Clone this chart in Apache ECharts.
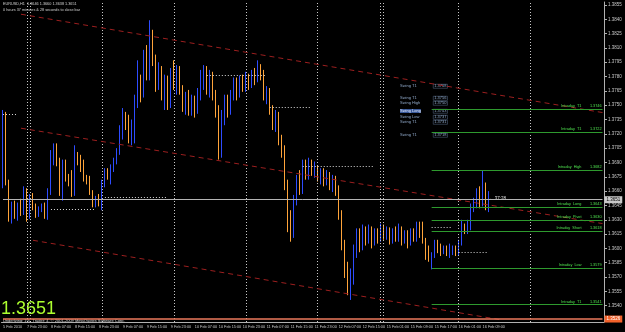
<!DOCTYPE html>
<html><head><meta charset="utf-8">
<script src="https://cdn.jsdelivr.net/npm/echarts@6/dist/echarts.min.js"></script>
<style>html,body{margin:0;padding:0;background:#000}#c{width:625px;height:332px}</style>
</head><body><div id="c"></div>
<script>
// ---- data ----
const tickLabels = ["5 Feb 2010","7 Feb 23:00","8 Feb 07:00","8 Feb 15:00","8 Feb 23:00","9 Feb 07:00","9 Feb 15:00","9 Feb 23:00","10 Feb 07:00","10 Feb 15:00","10 Feb 23:00","11 Feb 07:00","11 Feb 15:00","11 Feb 23:00","12 Feb 07:00","12 Feb 15:00","15 Feb 01:00","15 Feb 09:00","15 Feb 17:00","16 Feb 01:00","16 Feb 09:00"];
const slotCount = 201;
const priceTicks = [1.3855,1.3840,1.3825,1.3810,1.3795,1.3780,1.3765,1.3750,1.3735,1.3720,1.3705,1.3690,1.3675,1.3660,1.3645,1.3630,1.3615,1.3600,1.3585,1.3570,1.3555,1.3540];
// [open, close, low, high]
const candles = [
[1.3666,1.3742,1.3663,1.3745],[1.3740,1.3670,1.3666,1.3743],[1.3670,1.3632,1.3628,1.3672],[1.3632,1.3644,1.3626,1.3649],
[1.3644,1.3636,1.3631,1.3650],[1.3636,1.3643,1.3629,1.3648],[1.3643,1.3638,1.3634,1.3652],[1.3638,1.3661,1.3635,1.3665],
[1.3661,1.3634,1.3628,1.3663],[1.3634,1.3654,1.3631,1.3657],[1.3654,1.3643,1.3640,1.3658],[1.3643,1.3635,1.3632,1.3647],
[1.3635,1.3641,1.3633,1.3644],[1.3641,1.3643,1.3638,1.3647],[1.3643,1.3635,1.3631,1.3648],[1.3635,1.3659,1.3630,1.3663],
[1.3659,1.3693,1.3656,1.3703],[1.3693,1.3700,1.3687,1.3710],[1.3700,1.3691,1.3686,1.3710],[1.3691,1.3659,1.3655,1.3695],
[1.3659,1.3689,1.3650,1.3693],[1.3689,1.3673,1.3670,1.3693],[1.3673,1.3669,1.3665,1.3678],[1.3669,1.3658,1.3654,1.3682],
[1.3658,1.3698,1.3655,1.3708],[1.3698,1.3693,1.3687,1.3701],[1.3693,1.3684,1.3680,1.3698],[1.3684,1.3674,1.3670,1.3693],
[1.3674,1.3672,1.3667,1.3677],[1.3672,1.3659,1.3656,1.3676],[1.3659,1.3647,1.3643,1.3661],[1.3647,1.3653,1.3643,1.3655],
[1.3653,1.3649,1.3644,1.3657],[1.3649,1.3667,1.3640,1.3672],[1.3667,1.3679,1.3664,1.3684],[1.3679,1.3676,1.3672,1.3684],
[1.3676,1.3684,1.3667,1.3688],[1.3684,1.3693,1.3680,1.3695],[1.3693,1.3701,1.3688,1.3705],[1.3701,1.3726,1.3698,1.3729],
[1.3726,1.3742,1.3714,1.3747],[1.3742,1.3731,1.3724,1.3743],[1.3731,1.3714,1.3710,1.3740],[1.3714,1.3729,1.3708,1.3735],
[1.3729,1.3755,1.3710,1.3761],[1.3755,1.3776,1.3747,1.3797],[1.3776,1.3761,1.3753,1.3782],[1.3761,1.3792,1.3758,1.3808],
[1.3792,1.3782,1.3776,1.3813],[1.3782,1.3818,1.3776,1.3839],[1.3818,1.3797,1.3791,1.3829],[1.3797,1.3771,1.3764,1.3803],
[1.3771,1.3787,1.3766,1.3795],[1.3787,1.3761,1.3755,1.3791],[1.3761,1.3776,1.3745,1.3782],[1.3776,1.3750,1.3745,1.3781],
[1.3750,1.3782,1.3747,1.3789],[1.3782,1.3771,1.3766,1.3797],[1.3771,1.3787,1.3761,1.3792],[1.3787,1.3766,1.3761,1.3791],
[1.3766,1.3750,1.3743,1.3771],[1.3750,1.3761,1.3740,1.3764],[1.3761,1.3745,1.3739,1.3766],[1.3745,1.3755,1.3739,1.3761],
[1.3755,1.3745,1.3737,1.3760],[1.3745,1.3761,1.3741,1.3768],[1.3761,1.3774,1.3755,1.3787],[1.3774,1.3787,1.3766,1.3792],
[1.3787,1.3766,1.3761,1.3791],[1.3766,1.3782,1.3758,1.3787],[1.3782,1.3761,1.3755,1.3785],[1.3761,1.3745,1.3737,1.3766],
[1.3745,1.3698,1.3693,1.3750],[1.3698,1.3735,1.3695,1.3745],[1.3735,1.3755,1.3729,1.3761],[1.3755,1.3743,1.3737,1.3761],
[1.3743,1.3761,1.3740,1.3766],[1.3761,1.3774,1.3755,1.3779],[1.3774,1.3761,1.3755,1.3779],[1.3761,1.3776,1.3758,1.3781],
[1.3776,1.3768,1.3764,1.3782],[1.3768,1.3779,1.3764,1.3785],[1.3779,1.3771,1.3766,1.3783],[1.3771,1.3785,1.3768,1.3787],
[1.3785,1.3776,1.3771,1.3789],[1.3776,1.3789,1.3774,1.3797],[1.3789,1.3782,1.3776,1.3793],[1.3782,1.3761,1.3755,1.3787],
[1.3761,1.3766,1.3751,1.3770],[1.3766,1.3745,1.3740,1.3768],[1.3745,1.3729,1.3724,1.3750],[1.3729,1.3740,1.3722,1.3745],
[1.3740,1.3714,1.3708,1.3743],[1.3714,1.3703,1.3695,1.3719],[1.3703,1.3666,1.3661,1.3708],[1.3666,1.3625,1.3617,1.3672],
[1.3625,1.3614,1.3607,1.3640],[1.3614,1.3651,1.3611,1.3656],[1.3651,1.3672,1.3645,1.3677],[1.3672,1.3661,1.3656,1.3682],
[1.3661,1.3684,1.3657,1.3693],[1.3684,1.3677,1.3672,1.3693],[1.3677,1.3687,1.3672,1.3695],[1.3687,1.3680,1.3676,1.3693],
[1.3680,1.3684,1.3674,1.3691],[1.3684,1.3674,1.3670,1.3687],[1.3674,1.3680,1.3667,1.3684],[1.3680,1.3672,1.3665,1.3684],
[1.3672,1.3677,1.3666,1.3682],[1.3677,1.3666,1.3661,1.3680],[1.3666,1.3672,1.3659,1.3677],[1.3672,1.3661,1.3655,1.3676],
[1.3661,1.3635,1.3630,1.3666],[1.3635,1.3604,1.3598,1.3640],[1.3604,1.3577,1.3569,1.3609],[1.3577,1.3562,1.3551,1.3586],
[1.3562,1.3572,1.3546,1.3579],[1.3572,1.3598,1.3562,1.3604],[1.3598,1.3617,1.3590,1.3621],[1.3617,1.3604,1.3596,1.3621],
[1.3604,1.3614,1.3598,1.3625],[1.3614,1.3609,1.3603,1.3623],[1.3609,1.3619,1.3605,1.3625],[1.3619,1.3607,1.3600,1.3623],
[1.3607,1.3617,1.3603,1.3621],[1.3617,1.3611,1.3605,1.3621],[1.3611,1.3621,1.3607,1.3626],[1.3621,1.3613,1.3609,1.3625],
[1.3613,1.3619,1.3609,1.3623],[1.3619,1.3609,1.3604,1.3622],[1.3609,1.3617,1.3605,1.3621],[1.3617,1.3611,1.3607,1.3623],
[1.3611,1.3621,1.3607,1.3626],[1.3621,1.3609,1.3603,1.3623],[1.3609,1.3615,1.3605,1.3619],[1.3615,1.3607,1.3600,1.3619],
[1.3607,1.3617,1.3603,1.3621],[1.3617,1.3611,1.3607,1.3621],[1.3611,1.3623,1.3607,1.3628],[1.3623,1.3617,1.3611,1.3628],
[1.3626,1.3609,1.3605,1.3628],[1.3609,1.3592,1.3588,1.3611],[1.3592,1.3590,1.3586,1.3603],[1.3590,1.3593,1.3578,1.3596],
[1.3593,1.3606,1.3590,1.3609],[1.3606,1.3598,1.3595,1.3609],[1.3598,1.3596,1.3592,1.3605],[1.3596,1.3599,1.3594,1.3603],
[1.3599,1.3595,1.3592,1.3603],[1.3595,1.3598,1.3590,1.3605],[1.3598,1.3600,1.3593,1.3603],[1.3600,1.3596,1.3592,1.3603],
[1.3596,1.3606,1.3593,1.3609],[1.3606,1.3621,1.3603,1.3630],[1.3621,1.3618,1.3615,1.3626],[1.3618,1.3625,1.3615,1.3630],
[1.3625,1.3643,1.3619,1.3647],[1.3643,1.3649,1.3638,1.3653],[1.3649,1.3660,1.3642,1.3663],[1.3660,1.3645,1.3642,1.3665],
[1.3648,1.3667,1.3644,1.3682],[1.3667,1.3645,1.3640,1.3669],[1.3646,1.3651,1.3638,1.3660]
];
const bidPrice = 1.3651;
const alertPrice = 1.3526;
const pivotStart = 143;
const pivotNames = ["Intraday  T1","Intraday  T1","Intraday  High","Intraday  Long","Intraday  Pivot","Intraday  Short","Intraday  Low","Intraday  T1"];
const pivotValues = [1.3746,1.3722,1.3682,1.3643,1.3630,1.3618,1.3579,1.3541];
const separators = [8,9,33,57,81,105,126,127,152,176];
// [fromIndex, toIndex, price]
const swingLevels = [[0,5,1.3741],[16,31,1.3641],[34,55,1.3654],[68,88,1.3781],[89,103,1.3748],[100,124,1.3686],[143,150,1.3622],[152,162,1.3596]];
// [fromIndex, fromPrice, toIndex, toPrice]
const trendLines = [[6,1.38453,200,1.37423],[6,1.37259,200,1.36260],[10,1.36085,166,1.35252]];
const swingNames = ["Swing T1","Swing T1","Swing High","Swing Long","Swing Low","Swing T1","Swing T1"];
const swingValues = ["1.3768","1.3756","1.3750","1.3743","1.3737","1.3731","1.3718"];
const ohlcText = "EURUSD,H1  1.3646 1.3660 1.3638 1.3651";

// ---- chart ----
const cats = Array.from({length: slotCount}, (_, i) => String(i));
const FONT = '"Liberation Sans", Arial, sans-serif';
const last = slotCount - 1;
const markData = [];
separators.forEach(s => markData.push({xAxis: s, lineStyle:{color:'#c8c8c8', type:[1,2], width:1}, label:{show:false}}));
swingLevels.forEach(s => markData.push([{coord:[s[0], s[2]], lineStyle:{color:'#d8d8d8', type:[1,2], width:1}, label:{show:false}}, {coord:[s[1], s[2]]}]));
trendLines.forEach(t => markData.push([{coord:[t[0], t[1]], lineStyle:{color:'#9c1f1f', type:[5,4], width:1}, label:{show:false}}, {coord:[t[2], t[3]]}]));
pivotValues.forEach((v, k) => markData.push([{coord:[pivotStart, v], lineStyle:{color:'#2e9a2e', type:'solid', width:1},
  label:{show:true, position:'insideEndTop', distance:1, formatter: pivotNames[k] + '        ' + v.toFixed(4), color:'#4ee04e', fontSize:3.8, fontFamily:FONT}}, {coord:[last, v]}]));
markData.push([{coord:[0, bidPrice], lineStyle:{color:'#b4b4b4', type:'solid', width:1},
  label:{show:true, position:'end', distance:2, formatter: bidPrice.toFixed(4), backgroundColor:'#c8c8c8', color:'#000', fontSize:4.5, fontFamily:FONT, padding:[1,2]}}, {coord:[last, bidPrice]}]);
markData.push([{coord:[0, alertPrice], lineStyle:{color:'#ee7a5c', type:'solid', width:1.5},
  label:{show:true, position:'end', distance:2, formatter: alertPrice.toFixed(4), backgroundColor:'#f2612a', color:'#fff', fontSize:4.5, fontFamily:FONT, padding:[1,2]}}, {coord:[last, alertPrice]}]);

const swingGraphics = [];
const swingY = [84, 96, 101, 109, 115, 120, 133];
swingNames.forEach((n, k) => {
  const hl = n === 'Swing Long';
  swingGraphics.push({type:'text', left:400, top:swingY[k], silent:true,
    style:{text:n, fill: hl ? '#dfe8ff' : '#8fa8c8', font:'4px ' + FONT, backgroundColor: hl ? '#3a5a9a' : null}});
  swingGraphics.push({type:'text', left:433, top:swingY[k], silent:true,
    style:{text:swingValues[k], fill:'#8fa8c8', font:'4px ' + FONT, borderColor:'#5a6e8c', borderWidth:0.5, padding:[0,1]}});
});

const chart = echarts.init(document.getElementById('c'), null, {renderer:'canvas'});
chart.setOption({
  backgroundColor:'#000',
  animation:false,
  grid:{left:0, right:21, top:2, bottom:10},
  xAxis:{type:'category', data:cats, boundaryGap:true,
    axisLine:{lineStyle:{color:'#b0b0b0'}},
    axisTick:{interval:7, alignWithLabel:true, length:3, lineStyle:{color:'#b0b0b0'}},
    axisLabel:{interval:7, align:'left', margin:3, color:'#c8c8c8', fontSize:3.8, fontFamily:FONT,
      showMinLabel:true, hideOverlap:false,
      formatter:(v, idx) => tickLabels[idx/8] || ''},
    splitLine:{show:false}},
  yAxis:{type:'value', position:'right', min:1.35229, max:1.38581, scale:true,
    axisLine:{show:true, lineStyle:{color:'#b0b0b0'}},
    axisTick:{show:true, length:3, customValues:priceTicks, lineStyle:{color:'#b0b0b0'}},
    axisLabel:{customValues:priceTicks, margin:4, color:'#c8c8c8', fontSize:4.5, fontFamily:FONT, formatter:v => v.toFixed(4)},
    splitLine:{show:false}},
  series:[{type:'candlestick', data:candles, barWidth:1.2,
    itemStyle:{color:'#2e4cff', color0:'#ffa43a', borderColor:'#2e4cff', borderColor0:'#ffa43a', borderWidth:1},
    markLine:{silent:true, symbol:['none','none'], animation:false, data:markData}}],
  graphic:[
    {type:'text', left:3, top:2, silent:true, style:{text:ohlcText, fill:'#d0d0d0', font:'3.8px ' + FONT}},
    {type:'text', left:3, top:8, silent:true, style:{text:'0 hours 37 minutes & 28 seconds to close bar', fill:'#d0d0d0', font:'3.8px ' + FONT}},
    {type:'text', left:1, top:300, silent:true, style:{text:'1.3651', fill:'#adff2f', font:'18px Arial, "Liberation Sans"'}},
    {type:'text', left:3, top:319, silent:true, style:{text:'Underlying: 1%, Trader: 4, \u00a9 2001-2009 MetaQuotes Software Corp.', fill:'#d0d0d0', font:'4px ' + FONT}},
    {type:'text', left:489, top:196, silent:true, style:{text:'\u2190 37:28', fill:'#e0e0e0', font:'4.5px ' + FONT}}
  ].concat(swingGraphics)
});
</script></body></html>
